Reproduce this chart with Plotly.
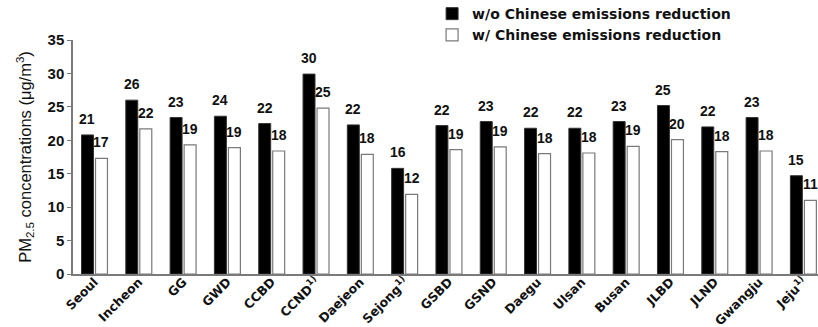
import plotly.graph_objects as go

# PM2.5 by region, with and without Chinese emissions reduction
regions = ["Seoul", "Incheon", "GG", "GWD", "CCBD", "CCND<sup>1)</sup>", "Daejeon",
           "Sejong<sup>1)</sup>", "GSBD", "GSND", "Daegu", "Ulsan", "Busan", "JLBD",
           "JLND", "Gwangju", "Jeju<sup>1)</sup>"]
without_reduction = [20.8, 26.0, 23.4, 23.6, 22.5, 29.9, 22.3, 15.8, 22.2, 22.8,
                     21.8, 21.8, 22.8, 25.2, 22.0, 23.4, 14.7]
with_reduction = [17.3, 21.7, 19.3, 18.9, 18.4, 24.8, 17.9, 11.9, 18.6, 19.0,
                  18.0, 18.1, 19.1, 20.1, 18.3, 18.4, 11.0]
y_ticks = [0, 5, 10, 15, 20, 25, 30, 35]

FONT = "Liberation Sans, Arial, sans-serif"
WIDE = "DejaVu Sans, sans-serif"
idx = list(range(len(regions)))
bar_w = 0.27
off = 0.158

fig = go.Figure()
fig.add_trace(go.Bar(
    x=idx, y=without_reduction, width=bar_w, offset=-off - bar_w / 2,
    marker=dict(color="#000000", line=dict(color="#333333", width=1)),
    name="<b>w/o Chinese emissions reduction</b>",
))
fig.add_trace(go.Bar(
    x=idx, y=with_reduction, width=bar_w, offset=off - bar_w / 2,
    marker=dict(color="#ffffff", line=dict(color="#7a7a7a", width=1.2)),
    name="<b>w/ Chinese emissions reduction</b>",
))

# value labels above each bar
for i in idx:
    for val, dx in ((without_reduction[i], -off), (with_reduction[i], off)):
        fig.add_annotation(
            x=i + dx, y=val, text=f"<b>{round(val)}</b>", showarrow=False,
            xanchor="center", yanchor="middle", yshift=16,
            font=dict(family=FONT, size=14, color="#111111"),
        )

fig.update_layout(
    width=818, height=327,
    margin=dict(l=73, r=0, t=40, b=53, autoexpand=False),
    paper_bgcolor="white", plot_bgcolor="white",
    barmode="overlay",
    font=dict(family=FONT, color="#111111"),
    legend=dict(
        x=0.482, y=1.066, xref="paper", yref="paper",
        xanchor="left", yanchor="middle", orientation="v",
        bgcolor="rgba(0,0,0,0)", itemwidth=30, tracegroupgap=0,
        font=dict(family=WIDE, size=14, color="#111111"),
    ),
)
fig.update_xaxes(
    range=[-0.485, 16.33], tickvals=idx,
    ticktext=[f"<b>{r}</b>" for r in regions], tickangle=-45,
    tickfont=dict(family=WIDE, size=12.5, color="#111111"),
    ticklabelstandoff=-6,
    showline=True, linecolor="#7a7a7a", linewidth=1.5,
    ticks="", showgrid=False, zeroline=False, automargin=False,
)
fig.update_yaxes(
    range=[0, 35], tickvals=y_ticks, ticktext=[f"<b>{t}</b>" for t in y_ticks],
    tickfont=dict(family=FONT, size=15, color="#111111"),
    showline=True, linecolor="#7a7a7a", linewidth=1.5,
    ticks="outside", ticklen=4, tickcolor="#7a7a7a",
    showgrid=False, zeroline=False, automargin=False,
    title=dict(text="PM<sub>2.5</sub> concentrations (μg/m<sup>3</sup>)",
               font=dict(family=FONT, size=16.5, color="#111111"), standoff=12),
)

fig.write_html("out.html")
